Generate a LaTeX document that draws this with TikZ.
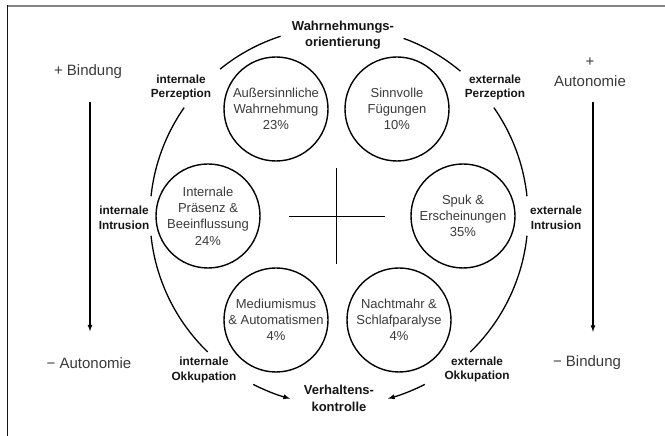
\documentclass[tikz,border=0pt]{standalone}
\usepackage{fontspec}
\setmainfont{Liberation Sans}
\usepackage{xcolor}
\usetikzlibrary{arrows, calc, positioning}
\definecolor{framegray}{HTML}{858585}
\definecolor{textgray}{HTML}{3A3A3A}
\definecolor{inkblack}{HTML}{151515}
\tikzset{
  %phenomenon circle style
  phen/.style={
    draw
    , circle
    , line width=1.4pt
    , minimum size=104pt
    , inner sep=0pt
    , align=center
    , text=textgray
    , font=\fontsize{13}{16.3}\selectfont
  },
}

\begin{document}
\begin{tikzpicture}[x=1pt,y=1pt]
  \tikzstyle{dim}=[inner sep=0pt, align=center, text=inkblack, font=\bfseries\fontsize{11.8}{14.6}\selectfont]
  \tikzstyle{axis}=[dim, font=\bfseries\fontsize{13}{16.6}\selectfont]
  \tikzstyle{pole}=[inner sep=0pt, align=center, text=textgray, font=\fontsize{15}{20}\selectfont]
  \tikzstyle{ring}=[line width=1.3pt]
  \tikzstyle{polearrow}=[-latex, line width=1.2pt]
  \useasboundingbox (0,0) rectangle (665,436);
  \draw [framegray, line width=2pt] (7,429.5) -- (665,429.5);
  \draw [inkblack, line width=1.2pt] (7.3,430.5) -- (7.3,0);

  \coordinate (c) at (339,220);
  \coordinate (x) at (336.5,219.5);

  \node [phen] (ausser) at (276,327) {Außersinnliche\\Wahrnehmung\\23\%};
  \node [phen] (sinn) at (397,327) {Sinnvolle\\Fügungen\\10\%};
  \node [phen] (praes) at (208,220) {Internale\\Präsenz \&\\Beeinflussung\\24\%};
  \node [phen] (spuk) at (463,220) {Spuk \&\\Erscheinungen\\35\%};
  \node [phen] (medium) at (276,116) {Mediumismus\\\& Automatismen\\4\%};
  \node [phen] (nacht) at (399,116) {Nachtmahr \&\\Schlafparalyse\\4\%};

  \draw [line width=1.4pt] ($(x)+(-48,0)$) -- ($(x)+(48,0)$);
  \draw [line width=1.4pt] ($(x)+(0,48)$) -- ($(x)+(0,-48)$);

  \node [axis] (wahr) at (343,401) {Wahrnehmungs-\\orientierung};
  \node [dim] (intperz) at (181,348.5) {internale\\Perzeption};
  \node [dim] (extperz) at (495,348.5) {externale\\Perzeption};
  \node [dim] (intintr) at (124,218.5) {internale\\Intrusion};
  \node [dim] (extintr) at (556,218.5) {externale\\Intrusion};
  \node [dim] (intokk) at (204,66) {internale\\Okkupation};
  \node [dim] (extokk) at (477,66.5) {externale\\Okkupation};
  \node [axis] (verh) at (339,37.5) {Verhaltens-\\kontrolle};

  \node [pole] (bindplus) at (88,364) {+ Bindung};
  \node [pole] (autoplus) at (590,364) {+\\Autonomie};
  \node [pole] (autominus) at (89,73) {− Autonomie};
  \node [pole] (bindminus) at (587,73) {− Bindung};

  % outer ring
  \draw [ring] (c) ++(129:189) arc [start angle=129, end angle=108, radius=189];
  \draw [ring] (c) ++(70:189) arc [start angle=70, end angle=50, radius=189];
  \draw [ring] (c) ++(145:189) arc [start angle=145, end angle=174, radius=189];
  \draw [ring] (c) ++(186:189) arc [start angle=186, end angle=226, radius=189];
  \draw [ring] (c) ++(35:189) arc [start angle=35, end angle=6, radius=189];
  \draw [ring] (c) ++(-6:189) arc [start angle=-6, end angle=-46, radius=189];
  \draw [ring, -latex] (c) ++(243:189) arc [start angle=243, end angle=255, radius=189];
  \draw [ring, -latex] (c) ++(297:189) arc [start angle=297, end angle=285, radius=189];

  \draw [polearrow] ([xshift=2pt,yshift=-23pt]bindplus.south) -- ([xshift=1pt,yshift=26pt]autominus.north);
  \draw [polearrow] ([xshift=3pt,yshift=-15.5pt]autoplus.south) -- ([xshift=6pt,yshift=24pt]bindminus.north);

\end{tikzpicture}
\end{document}
